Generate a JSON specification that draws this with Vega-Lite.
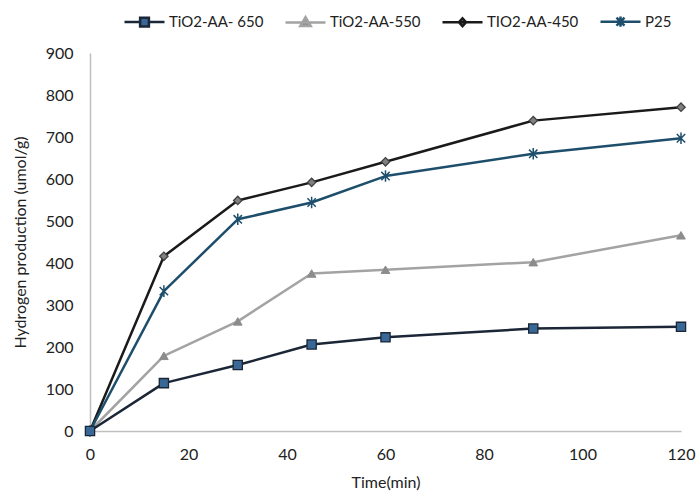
{
  "$schema": "https://vega.github.io/schema/vega-lite/v6.json",
  "width": 591,
  "height": 378,
  "autosize": "none",
  "padding": {"left": 90, "top": 53, "right": 15, "bottom": 63},
  "background": "white",
  "config": {
    "view": {"stroke": null},
    "font": "Lato",
    "axis": {
      "grid": false,
      "ticks": false,
      "domainColor": "#bfbfbf",
      "domainWidth": 1.5,
      "labelFontSize": 16,
      "labelColor": "#222222",
      "titleFontSize": 16,
      "titleFontWeight": "normal",
      "titleColor": "#222222"
    }
  },
  "data": {
    "values": [
      {"series": "TiO2-AA-550", "t": 0, "y": 0},
      {"series": "TiO2-AA-550", "t": 15, "y": 179},
      {"series": "TiO2-AA-550", "t": 30, "y": 261},
      {"series": "TiO2-AA-550", "t": 45, "y": 375},
      {"series": "TiO2-AA-550", "t": 60, "y": 384},
      {"series": "TiO2-AA-550", "t": 90, "y": 402},
      {"series": "TiO2-AA-550", "t": 120, "y": 466},
      {"series": "TIO2-AA-450", "t": 0, "y": 0},
      {"series": "TIO2-AA-450", "t": 15, "y": 416},
      {"series": "TIO2-AA-450", "t": 30, "y": 549},
      {"series": "TIO2-AA-450", "t": 45, "y": 592},
      {"series": "TIO2-AA-450", "t": 60, "y": 641},
      {"series": "TIO2-AA-450", "t": 90, "y": 739},
      {"series": "TIO2-AA-450", "t": 120, "y": 771},
      {"series": "P25", "t": 0, "y": 0},
      {"series": "P25", "t": 15, "y": 333},
      {"series": "P25", "t": 30, "y": 504},
      {"series": "P25", "t": 45, "y": 544},
      {"series": "P25", "t": 60, "y": 607},
      {"series": "P25", "t": 90, "y": 660},
      {"series": "P25", "t": 120, "y": 697},
      {"series": "TiO2-AA- 650", "t": 0, "y": 0},
      {"series": "TiO2-AA- 650", "t": 15, "y": 114},
      {"series": "TiO2-AA- 650", "t": 30, "y": 157},
      {"series": "TiO2-AA- 650", "t": 45, "y": 206},
      {"series": "TiO2-AA- 650", "t": 60, "y": 223},
      {"series": "TiO2-AA- 650", "t": 90, "y": 244},
      {"series": "TiO2-AA- 650", "t": 120, "y": 248}
    ]
  },
  "encoding": {
    "x": {
      "field": "t",
      "type": "quantitative",
      "scale": {"domain": [0, 120], "nice": false},
      "axis": {"title": "Time(min)", "values": [0, 20, 40, 60, 80, 100, 120], "labelPadding": 15, "titlePadding": 12, "labelFlush": false}
    },
    "y": {
      "field": "y",
      "type": "quantitative",
      "scale": {"domain": [0, 900], "nice": false},
      "axis": {"title": "Hydrogen production (umol/g)", "values": [0, 100, 200, 300, 400, 500, 600, 700, 800, 900], "labelPadding": 17, "titlePadding": 17}
    }
  },
  "layer": [
    {
      "mark": {"type": "line", "strokeJoin": "round", "strokeWidth": 2.5},
      "encoding": {
        "color": {
          "field": "series",
          "type": "nominal",
          "sort": null,
          "scale": {
            "domain": ["TiO2-AA- 650", "TiO2-AA-550", "TIO2-AA-450", "P25"],
            "range": ["#1b2636", "#a3a3a3", "#1a1a1a", "#1d4e6b"]
          },
          "legend": {
            "title": null,
            "orient": "none",
            "direction": "horizontal",
            "legendX": 33,
            "legendY": -53,
            "padding": 0,
            "symbolSize": 1600,
            "symbolStrokeWidth": 2.5,
            "labelFontSize": 15,
            "labelColor": "#222222",
            "labelOffset": 3,
            "columnPadding": 16,
            "encoding": {
              "symbols": {
                "shape": {
                  "condition": [
                    {"test": "datum.value === 'TiO2-AA- 650'", "value": "M-1,0H-0.22M0.22,0H1M-0.22,-0.22H0.22V0.22H-0.22Z"},
                    {"test": "datum.value === 'TiO2-AA-550'", "value": "M-1,0H1M0,-0.26L0.26,0.18H-0.26Z"},
                    {"test": "datum.value === 'TIO2-AA-450'", "value": "M-1,0H1M0,-0.2L0.18,0L0,0.2L-0.18,0Z"}
                  ],
                  "value": "M-1,0H1M-0.2,-0.2L0.2,0.2M-0.2,0.2L0.2,-0.2M0,-0.26V0.26"
                },
                "fill": {
                  "condition": [
                    {"test": "datum.value === 'TiO2-AA- 650'", "value": "#3a6896"},
                    {"test": "datum.value === 'TiO2-AA-550'", "value": "#8c8c8c"},
                    {"test": "datum.value === 'TIO2-AA-450'", "value": "#808080"}
                  ],
                  "value": "transparent"
                },
                "size": {"value": 1600},
                "strokeWidth": {"value": 2.5}
              }
            }
          }
        }
      }
    },
    {
      "transform": [{"filter": "datum.series === 'TiO2-AA-550'"}],
      "mark": {"type": "point", "filled": true, "opacity": 1, "shape": "triangle-up", "size": 75, "fill": "#8c8c8c", "stroke": "#8c8c8c", "strokeWidth": 1}
    },
    {
      "transform": [{"filter": "datum.series === 'TIO2-AA-450'"}],
      "mark": {"type": "point", "filled": true, "opacity": 1, "shape": "diamond", "size": 70, "fill": "#808080", "stroke": "#404040", "strokeWidth": 1.3}
    },
    {
      "transform": [{"filter": "datum.series === 'P25'"}],
      "mark": {"type": "point", "filled": false, "opacity": 1, "shape": "M-0.8,-0.8L0.8,0.8M-0.8,0.8L0.8,-0.8M0,-1.1V1.1", "size": 110, "stroke": "#1d4e6b", "strokeWidth": 1.5}
    },
    {
      "transform": [{"filter": "datum.series === 'TiO2-AA- 650'"}],
      "mark": {"type": "point", "filled": true, "opacity": 1, "shape": "square", "size": 85, "fill": "#3a6896", "stroke": "#1b2636", "strokeWidth": 1.3}
    }
  ]
}
